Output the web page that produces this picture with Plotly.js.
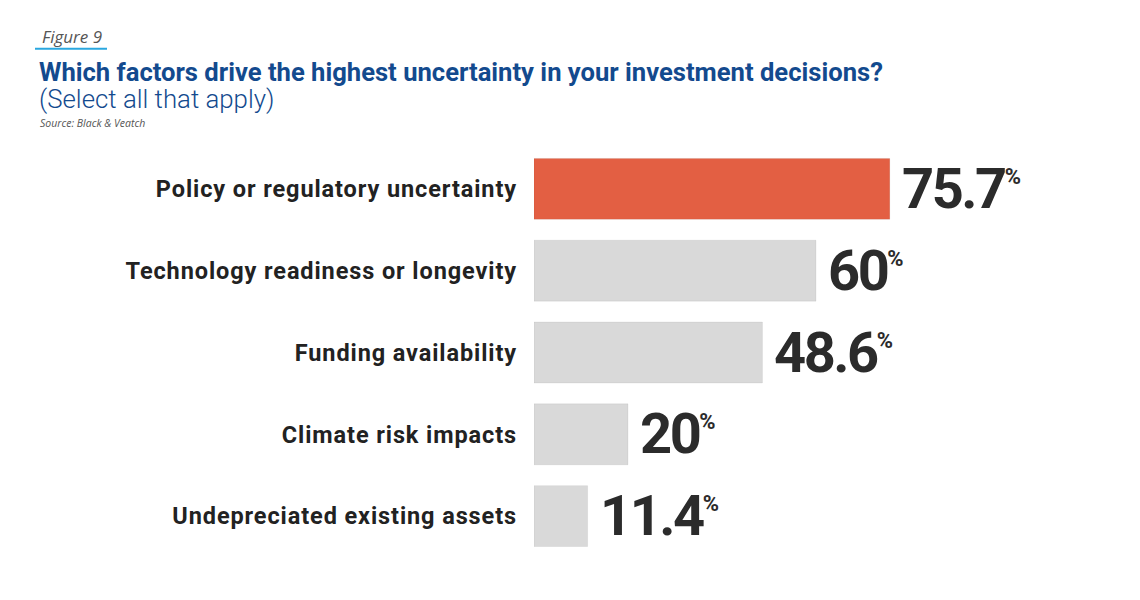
<!DOCTYPE html>
<html><head><meta charset="utf-8">
<script src="https://cdn.plot.ly/plotly-3.0.1.min.js"></script>
<style>html,body{margin:0;padding:0;background:#fff}</style>
</head><body>
<div id="chart" style="width:1140px;height:600px"></div>
<script>
const categories = ["Policy or regulatory uncertainty","Technology readiness or longevity","Funding availability","Climate risk impacts","Undepreciated existing assets"];
const values = [75.7, 60, 48.6, 20, 11.4];
const labels = ["75.7", "60", "48.6", "20", "11.4"];
const barColors = ["#e35f43","#d9d9d9","#d9d9d9","#d9d9d9","#d9d9d9"];

const L = 534, R = 1004, T = 147.5, B = 557.5;
const px = x => (x - L) / (R - L);
const py = y => (B - y) / (B - T);

const annotations = values.map((v, i) => ({
  x: v, y: categories[i], xref: 'x', yref: 'y', xanchor: 'left', yanchor: 'middle',
  xshift: 10, yshift: 0, showarrow: false,
  text: '<span style="letter-spacing:-2.5px">' + labels[i] + '</span><sup><span style="font-size:22px">%</span></sup>',
  font: {family: 'Roboto', size: 56, color: '#2b2b2b', weight: 700}
}));
annotations.push(
  {xref:'paper', yref:'paper', x:px(40), y:py(36), xanchor:'left', yanchor:'middle', showarrow:false,
   text:'<i>Figure 9</i>', font:{family:'Open Sans', size:17, color:'#555555'}},
  {xref:'paper', yref:'paper', x:px(37), y:py(71), xanchor:'left', yanchor:'middle', showarrow:false,
   text:'<b>Which factors drive the highest uncertainty in your investment decisions?</b>', font:{family:'Roboto', size:25.6, color:'#134a8e'}},
  {xref:'paper', yref:'paper', x:px(37), y:py(98), xanchor:'left', yanchor:'middle', showarrow:false,
   text:'(Select all that apply)', font:{family:'Roboto', size:25.8, color:'#134a8e', weight:300}},
  {xref:'paper', yref:'paper', x:px(38), y:py(122), xanchor:'left', yanchor:'middle', showarrow:false,
   text:'<i>Source: Black &amp; Veatch</i>', font:{family:'Open Sans', size:10.5, color:'#555555'}}
);

const data = [{
  type: 'bar', orientation: 'h', x: values, y: categories,
  marker: {color: barColors, line: {color: 'rgba(0,0,0,0.06)', width: 1}},
  width: 0.745, hoverinfo: 'none'
}];

const layout = {
  width: 1140, height: 600,
  margin: {l: L, r: 1140 - R, t: T, b: 600 - B, pad: 0},
  paper_bgcolor: '#ffffff', plot_bgcolor: '#ffffff',
  showlegend: false,
  xaxis: {range: [0, 100], visible: false, fixedrange: true},
  yaxis: {type: 'category', autorange: false, range: [4.5, -0.5], showgrid: false, zeroline: false,
    showline: false, ticks: '', ticklabelstandoff: 16,
    tickvals: categories,
    ticktext: categories.map(c => '<span style="letter-spacing:0.9px">' + c + '</span>'),
    tickfont: {family: 'Roboto', size: 23.5, color: '#222222', weight: 700}},
  shapes: [{type:'line', xref:'paper', yref:'paper', x0:px(35), x1:px(107), y0:py(48), y1:py(48),
    line:{color:'#2aa7df', width:2}}],
  annotations: annotations
};
Plotly.newPlot('chart', data, layout, {displayModeBar: false, staticPlot: true});
</script>
</body></html>
